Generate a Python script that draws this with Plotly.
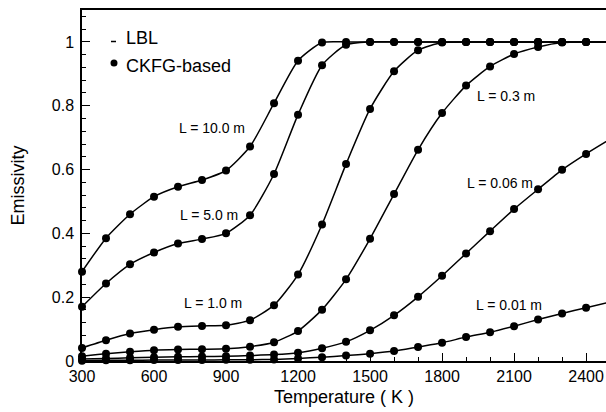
import plotly.graph_objects as go

# Gas temperature (K)
temperature = [300, 400, 500, 600, 700, 800, 900, 1000, 1100, 1200, 1300, 1400,
               1500, 1600, 1700, 1800, 1900, 2000, 2100, 2200, 2300, 2400, 2500]

# Emissivity for each path length
eps_10m = [0.28, 0.385, 0.46, 0.515, 0.546, 0.567, 0.597, 0.672, 0.808, 0.941, 0.998, 1.0,
           1.0, 1.0, 1.0, 1.0, 1.0, 1.0, 1.0, 1.0, 1.0, 1.0, 1.0]
eps_5m = [0.17, 0.243, 0.303, 0.34, 0.368, 0.382, 0.4, 0.457, 0.586, 0.772, 0.927, 0.991,
          1.0, 1.0, 1.0, 1.0, 1.0, 1.0, 1.0, 1.0, 1.0, 1.0, 1.0]
eps_1m = [0.041, 0.065, 0.086, 0.098, 0.107, 0.11, 0.112, 0.128, 0.175, 0.271, 0.428, 0.617,
          0.79, 0.908, 0.974, 0.998, 1.0, 1.0, 1.0, 1.0, 1.0, 1.0, 1.0]
eps_03m = [0.015, 0.023, 0.029, 0.034, 0.036, 0.037, 0.038, 0.045, 0.059, 0.094, 0.161, 0.256,
           0.383, 0.523, 0.662, 0.777, 0.863, 0.923, 0.962, 0.984, 0.998, 1.0, 1.0]
eps_006m = [0.006, 0.008, 0.01, 0.012, 0.013, 0.014, 0.015, 0.017, 0.02, 0.026, 0.04, 0.06,
            0.096, 0.143, 0.201, 0.267, 0.337, 0.407, 0.476, 0.538, 0.599, 0.649, 0.695]
eps_001m = [0.001, 0.002, 0.002, 0.003, 0.003, 0.003, 0.004, 0.004, 0.005, 0.008, 0.012, 0.017,
            0.023, 0.031, 0.044, 0.057, 0.075, 0.09, 0.109, 0.13, 0.149, 0.167, 0.185]

series = [eps_10m, eps_5m, eps_1m, eps_03m, eps_006m, eps_001m]

# Curve labels and where they sit (temperature, emissivity)
curve_labels = ["L = 10.0 m", "L = 5.0 m", "L = 1.0 m", "L = 0.3 m", "L = 0.06 m", "L = 0.01 m"]
label_T = [840, 831, 844, 2065, 2040, 2077]
label_eps = [0.73, 0.457, 0.181, 0.831, 0.558, 0.175]

legend_names = ["LBL", "CKFG-based"]

FONT = "Liberation Sans, Arial, sans-serif"
W, H = 606, 412
ML, MR, MT, MB = 82, 0, 10, 51


def px_x(x):
    return (x - ML) / (W - ML - MR)


def px_y(y):
    return (H - MB - y) / (H - MT - MB)


fig = go.Figure()

# LBL: smooth lines
for ys in series:
    fig.add_trace(go.Scatter(
        x=temperature, y=ys, mode="lines",
        line=dict(color="black", width=1.5, shape="spline", smoothing=0.6),
        showlegend=False, hoverinfo="skip"))

# CKFG-based: filled dots
for ys in series:
    fig.add_trace(go.Scatter(
        x=temperature, y=ys, mode="markers",
        marker=dict(color="black", size=8, line=dict(width=0)),
        cliponaxis=False, showlegend=False))

for txt, tx, ty in zip(curve_labels, label_T, label_eps):
    fig.add_annotation(x=tx, y=ty, text=txt, showarrow=False,
                       font=dict(family=FONT, size=14, color="black"),
                       xanchor="center", yanchor="middle")

# Legend drawn in the upper-left corner
fig.add_shape(type="line", xref="paper", yref="paper",
              x0=px_x(111), x1=px_x(116), y0=px_y(41.5), y1=px_y(41.5),
              line=dict(color="black", width=1.5))
fig.add_shape(type="circle", xref="paper", yref="paper",
              x0=px_x(110.5), x1=px_x(117.5), y0=px_y(59.5), y1=px_y(66.5),
              fillcolor="black", line=dict(width=0))
fig.add_annotation(x=px_x(124), y=px_y(38), xref="paper", yref="paper",
                   text=legend_names[0], showarrow=False, xanchor="left", yanchor="middle",
                   font=dict(family=FONT, size=18, color="black"))
fig.add_annotation(x=px_x(124), y=px_y(66), xref="paper", yref="paper",
                   text=legend_names[1], showarrow=False, xanchor="left", yanchor="middle",
                   font=dict(family=FONT, size=18, color="black"))

fig.update_layout(
    width=W, height=H,
    margin=dict(l=ML, r=MR, t=MT, b=MB, pad=0),
    paper_bgcolor="white", plot_bgcolor="white",
    font=dict(family=FONT, color="black"),
    showlegend=False,
    xaxis=dict(
        range=[300, 2483], tickmode="linear", tick0=300, dtick=300,
        ticks="inside", ticklen=8, tickwidth=1.2, tickcolor="black",
        minor=dict(dtick=100, tick0=300, ticks="inside", ticklen=4, tickwidth=1, tickcolor="black"),
        showline=True, linecolor="black", linewidth=1.5, mirror=True,
        showgrid=False, zeroline=False,
        tickfont=dict(family=FONT, size=16, color="black"),
        title=dict(text="Temperature ( K )", font=dict(family=FONT, size=18, color="black"),
                   standoff=6),
    ),
    yaxis=dict(
        range=[0, 1.1], tickmode="linear", tick0=0, dtick=0.2,
        ticks="inside", ticklen=8, tickwidth=1.2, tickcolor="black",
        minor=dict(dtick=0.04, tick0=0, ticks="inside", ticklen=4, tickwidth=1, tickcolor="black"),
        showline=True, linecolor="black", linewidth=1.5, mirror=False,
        showgrid=False, zeroline=False,
        tickfont=dict(family=FONT, size=16, color="black"),
        ticklabelstandoff=3,
        title=dict(text="Emissivity", font=dict(family=FONT, size=18, color="black"),
                   standoff=22),
    ),
)

fig.write_html("out.html")
